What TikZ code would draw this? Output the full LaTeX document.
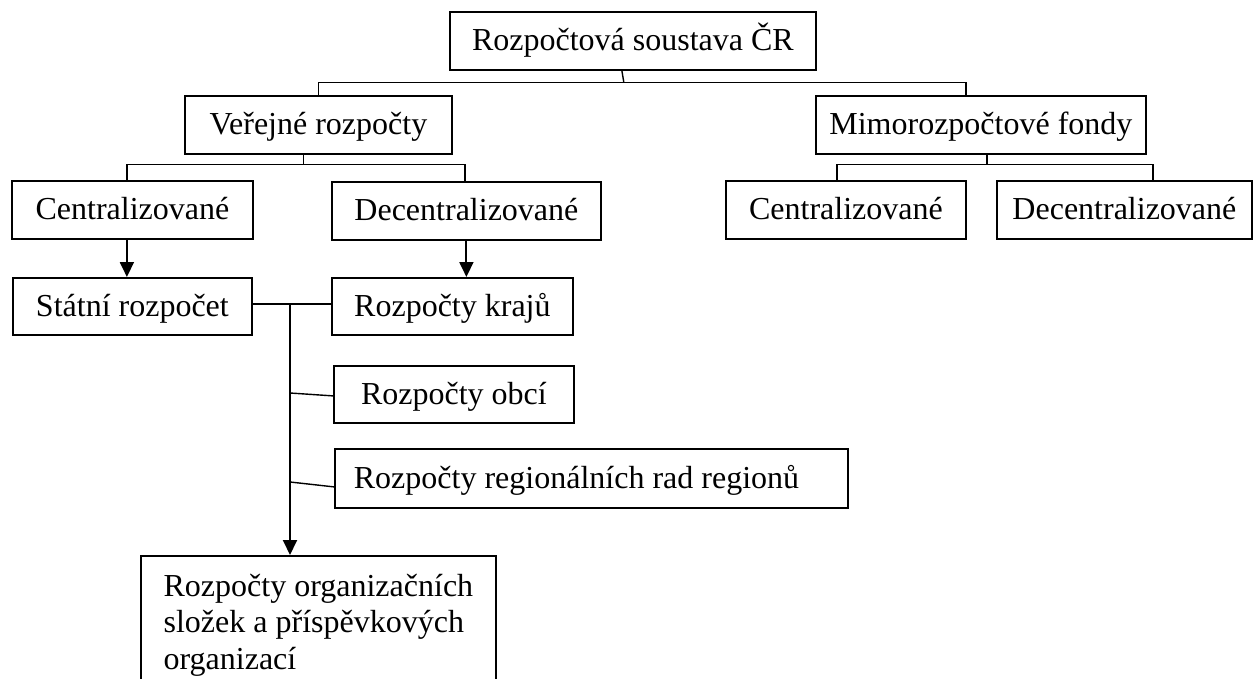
\documentclass[tikz,border=0pt]{standalone}
\usepackage{fontspec}
\setmainfont{Liberation Serif}
\usetikzlibrary{arrows.meta}

\begin{document}
\begin{tikzpicture}[x=1pt,y=-1pt,
  blok/.style={draw,line width=1.8pt,anchor=north west,inner sep=0pt,
    text height=21pt,text depth=1pt,font=\fontsize{32}{36.5}\selectfont},
  spoj/.style={line width=1.4pt},
  sipka/.style={line width=1.9pt,-{Triangle[width=14pt,length=15pt]}}]
\useasboundingbox (0,0) rectangle (1253,679);
% bloky
\node[blok,minimum width=366pt,minimum height=58pt] (soustava) at (449,11) {Rozpočtová soustava ČR};
\node[blok,minimum width=267pt,minimum height=58pt] (verejne) at (184,95) {Veřejné rozpočty};
\node[blok,minimum width=330pt,minimum height=58pt] (mimo) at (815,95) {Mimorozpočtové fondy};
\node[blok,minimum width=241pt,minimum height=58pt] (centralL) at (11,180) {Centralizované};
\node[blok,minimum width=269pt,minimum height=58pt] (decentralL) at (331,181) {Decentralizované};
\node[blok,minimum width=240pt,minimum height=58pt] (centralR) at (725,180) {Centralizované};
\node[blok,minimum width=255pt,minimum height=58pt] (decentralR) at (996,180) {Decentralizované};
\node[blok,minimum width=239pt,minimum height=57pt] (statni) at (12,277) {Státní rozpočet};
\node[blok,minimum width=241pt,minimum height=57pt] (kraje) at (331,277) {Rozpočty krajů};
\node[blok,minimum width=240pt,minimum height=57pt] (obce) at (333,365) {Rozpočty obcí};
\node[blok,minimum height=59pt,inner xsep=19pt] (regiony) at (334,448) {\makebox[475pt][l]{Rozpočty regionálních rad regionů}};
\node[blok,minimum width=355pt,minimum height=138pt,text height=,text depth=,align=left] (organizace) at (140,555)
  {Rozpočty organizačních\\složek a příspěvkových\\organizací};
% spojnice
\draw[spoj] ([xshift=-11pt]soustava.south) -- ++(2,12) coordinate (h1);
\draw[spoj] (verejne.north) |- (h1) -| ([xshift=-15pt]mimo.north);
\draw[spoj] ([xshift=-15pt]verejne.south) -- ++(0,10) coordinate (h2);
\draw[spoj] ([xshift=-5.5pt]centralL.north) |- (h2) -| ([xshift=-1.5pt]decentralL.north);
\draw[spoj] ([xshift=6pt]mimo.south) -- ++(0,10) coordinate (h3);
\draw[spoj] ([xshift=-9pt]centralR.north) |- (h3) -| ([xshift=28.5pt]decentralR.north);
\draw[sipka] ([xshift=-5.5pt]centralL.south) -- ([xshift=-5.5pt]centralL.south |- statni.north);
\draw[sipka] (decentralL.south) -- (decentralL.south |- kraje.north);
\draw[spoj] ([yshift=2.5pt]statni.east) -- ([yshift=2.5pt]kraje.west);
\coordinate (k) at (290,303);
\coordinate (k1) at (290,393);
\coordinate (k2) at (290,482);
\draw[sipka] (k) -- (k |- organizace.north);
\draw[spoj] (k1) -- ([yshift=-1.5pt]obce.west);
\draw[spoj] (k2) -- ([yshift=-8.5pt]regiony.west);
\end{tikzpicture}
\end{document}
